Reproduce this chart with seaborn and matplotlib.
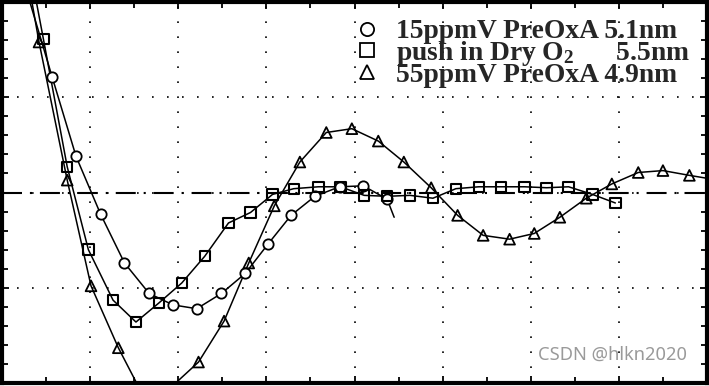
import numpy as np
import pandas as pd
import matplotlib
matplotlib.use('Agg')
import matplotlib.pyplot as plt
import seaborn as sns
from matplotlib.lines import Line2D
from matplotlib.ticker import MultipleLocator, NullFormatter

# values (arbitrary units, zero line in the middle)
# 15ppmV PreOxA 5.1nm  (circles)
circ_x = [0.57, 0.84, 1.12, 1.39, 1.67, 1.94, 2.21, 2.49, 2.76, 3.02, 3.28, 3.55, 3.83, 4.10, 4.37]
circ_y = [1.21, 0.38, -0.23, -0.74, -1.06, -1.18, -1.22, -1.06, -0.85, -0.54, -0.24, -0.04, 0.06, 0.07, -0.07]
circ_lead = (0.30, 2.05)
circ_tail = (4.45, -0.26)

# push in Dry O2 5.5nm  (squares)
sq_x = [0.47, 0.74, 0.98, 1.26, 1.52, 1.78, 2.04, 2.30, 2.57, 2.82, 3.07, 3.31, 3.59, 3.84,
        4.11, 4.37, 4.63, 4.89, 5.15, 5.41, 5.66, 5.93, 6.18, 6.43, 6.70, 6.96]
sq_y = [1.61, 0.27, -0.60, -1.13, -1.36, -1.16, -0.95, -0.67, -0.32, -0.21, -0.02, 0.04, 0.06, 0.06,
        -0.03, -0.04, -0.03, -0.06, 0.04, 0.06, 0.06, 0.06, 0.05, 0.06, -0.02, -0.11]
sq_lead = (0.38, 2.05)

# 55ppmV PreOxA 4.9nm  (triangles)
tri_x = [0.42, 0.74, 1.01, 1.32, 1.60, 1.90, 2.23, 2.52, 2.80, 3.09, 3.38, 3.68, 3.97, 4.27,
         4.56, 4.87, 5.17, 5.46, 5.76, 6.04, 6.33, 6.63, 6.92, 7.22, 7.50, 7.80]
tri_y = [1.58, 0.13, -0.98, -1.63, -2.13, -2.06, -1.78, -1.35, -0.74, -0.14, 0.32, 0.63, 0.67, 0.54,
         0.32, 0.05, -0.24, -0.45, -0.49, -0.43, -0.26, -0.06, 0.09, 0.21, 0.23, 0.18]
tri_lead = (0.33, 2.05)
tri_tail = (8.06, 0.14)

labels = ['15ppmV PreOxA 5.1nm',
          r'push in Dry O$_{\mathregular{2}}$      5.5nm',
          '55ppmV PreOxA 4.9nm']

sns.set_style('white')
plt.rcParams['font.family'] = ['Liberation Serif', 'DejaVu Serif']
plt.rcParams['mathtext.fontset'] = 'stix'

fig = plt.figure(figsize=(7.09, 3.86), dpi=100)
ax = fig.add_axes([2 / 709, 3 / 386, 705 / 709, 381 / 386])

# curves through the points
def curve(xs, ys, lead=None, tail=None):
    x = list(xs)
    y = list(ys)
    if lead:
        x = [lead[0]] + x
        y = [lead[1]] + y
    if tail:
        x = x + [tail[0]]
        y = y + [tail[1]]
    return pd.DataFrame({'x': x, 'y': y})

ax.axhline(0, color='black', lw=1.5, linestyle=(0, (9.6, 3.8, 1.0, 3.8)), zorder=1)

for d in [curve(circ_x, circ_y, circ_lead, circ_tail),
          curve(sq_x, sq_y, sq_lead),
          curve(tri_x, tri_y, tri_lead, tri_tail)]:
    sns.lineplot(data=d, x='x', y='y', sort=False, color='black', lw=1.1, ax=ax, zorder=2)

sns.scatterplot(x=circ_x, y=circ_y, marker='o', s=55, facecolor='white', edgecolor='black',
                linewidth=1.3, ax=ax, zorder=3)
sns.scatterplot(x=sq_x, y=sq_y, marker='s', s=55, facecolor='none', edgecolor='black',
                linewidth=1.5, ax=ax, zorder=3)
sns.scatterplot(x=tri_x, y=tri_y, marker='^', s=60, facecolor='none', edgecolor='black',
                linewidth=1.3, ax=ax, zorder=3)

ax.set_xlim(0, 8)
ax.set_ylim(-2, 2)
ax.set_xlabel('')
ax.set_ylabel('')

ax.xaxis.set_major_locator(MultipleLocator(1))
ax.xaxis.set_minor_locator(MultipleLocator(0.5))
ax.yaxis.set_major_locator(MultipleLocator(1))
ax.yaxis.set_minor_locator(MultipleLocator(0.2))
ax.xaxis.set_major_formatter(NullFormatter())
ax.yaxis.set_major_formatter(NullFormatter())
ax.tick_params(which='both', direction='in', top=True, right=True, bottom=True, left=True,
               width=1.3, color='black')
ax.tick_params(which='major', length=5)
ax.tick_params(which='minor', length=4)

ax.grid(True, which='major', color='black', lw=1.2, linestyle=(0, (1, 8)))
ax.set_axisbelow(True)

for sp in ax.spines.values():
    sp.set_visible(True)
    sp.set_color('black')
    sp.set_linewidth(3)

handles = [Line2D([], [], marker='o', ls='none', mfc='none', mec='black', ms=9.5, mew=1.3),
           Line2D([], [], marker='s', ls='none', mfc='none', mec='black', ms=9.5, mew=1.3),
           Line2D([], [], marker='^', ls='none', mfc='none', mec='black', ms=10.5, mew=1.3)]
ax.legend(handles, labels, loc='upper left', bbox_to_anchor=(0.4986, 0.955), frameon=False,
          prop={'size': 19.8, 'weight': 'bold'}, handlelength=0.95, handletextpad=0.6,
          labelspacing=-0.2, borderpad=0, borderaxespad=0)

fig.text(612 / 709, 1 - 355 / 386, 'CSDN @hlkn2020', family='Noto Sans', fontsize=13.2,
         color='#9a9a9a', ha='center', va='center')

fig.savefig('out.png', dpi=100)
